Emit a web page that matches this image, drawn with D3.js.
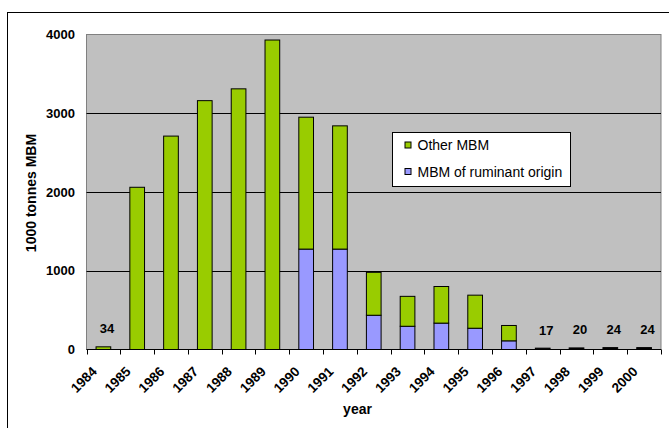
<!DOCTYPE html>
<html>
<head>
<meta charset="utf-8">
<script src="https://cdn.jsdelivr.net/npm/d3@7"></script>
<style>
  html, body { margin: 0; padding: 0; background: #fff; }
  svg { display: block; font-family: "Liberation Sans", Arial, sans-serif; }
</style>
</head>
<body>
<svg id="chart" width="669" height="428"></svg>
<script>
// Meat-and-bone meal production, thousand tonnes per year
const years = ["1984","1985","1986","1987","1988","1989","1990","1991","1992",
               "1993","1994","1995","1996","1997","1998","1999","2000"];
const ruminant = [0, 0, 0, 0, 0, 0, 1275, 1275, 435, 295, 335, 270, 110, 0, 0, 0, 0];
const other    = [34, 2060, 2710, 3160, 3310, 3930, 1675, 1565, 545, 380, 465, 420, 195, 0, 0, 0, 0];
// later years reported only as an undivided total
const totalOnly = [0, 0, 0, 0, 0, 0, 0, 0, 0, 0, 0, 0, 0, 17, 20, 24, 24];
// small totals written above their bars
const valueLabels = [
  { year: "1984", value: 34 },
  { year: "1997", value: 17 },
  { year: "1998", value: 20 },
  { year: "1999", value: 24 },
  { year: "2000", value: 24 }
];
const yTicks = [0, 1000, 2000, 3000, 4000];
const seriesNames = ["Other MBM", "MBM of ruminant origin"];
const colors = { "Other MBM": "#99CC00", "MBM of ruminant origin": "#9999FF", "Total": "#000000" };

const svg = d3.select("#chart");
const plot = { left: 86.5, top: 34.5, right: 661, bottom: 349.5 };

// outer chart frame
svg.append("rect")
  .attr("x", 7.5).attr("y", 12.5)
  .attr("width", 700).attr("height", 440)
  .attr("fill", "#fff").attr("stroke", "#000").attr("stroke-width", 1);

const x = d3.scaleBand().domain(years).range([plot.left, plot.right]);
const y = d3.scaleLinear().domain([0, 4000]).range([plot.bottom, plot.top]);
const barW = x.bandwidth() / 2.3;

// plot area background
svg.append("rect")
  .attr("x", plot.left).attr("y", plot.top)
  .attr("width", plot.right - plot.left).attr("height", plot.bottom - plot.top)
  .attr("fill", "#C0C0C0").attr("stroke", "#808080").attr("stroke-width", 1);

// horizontal gridlines
svg.append("g").selectAll("line")
  .data(yTicks.filter(t => t > 0 && t < 4000))
  .join("line")
  .attr("x1", plot.left).attr("x2", plot.right)
  .attr("y1", d => Math.round(y(d)) + 0.5).attr("y2", d => Math.round(y(d)) + 0.5)
  .attr("stroke", "#000").attr("stroke-width", 1);

// stacked bars
const rows = years.map((yr, i) => ({
  year: yr,
  "MBM of ruminant origin": ruminant[i],
  "Other MBM": other[i],
  "Total": totalOnly[i]
}));
const stack = d3.stack().keys(["MBM of ruminant origin", "Other MBM", "Total"]);
const layers = stack(rows);

svg.append("g").selectAll("g")
  .data(layers)
  .join("g")
  .attr("fill", d => colors[d.key])
  .selectAll("rect")
  .data(d => d.filter(p => p[1] - p[0] > 0))
  .join("rect")
  .attr("x", d => x(d.data.year) + (x.bandwidth() - barW) / 2)
  .attr("width", barW)
  .attr("y", d => y(d[1]))
  .attr("height", d => y(d[0]) - y(d[1]))
  .attr("stroke", "#000").attr("stroke-width", 1);

// x axis line and ticks at category boundaries
const xAxis = svg.append("g");
xAxis.append("line")
  .attr("x1", plot.left).attr("x2", plot.right)
  .attr("y1", plot.bottom).attr("y2", plot.bottom)
  .attr("stroke", "#000");
xAxis.selectAll("line.tick")
  .data(years.map(yr => x(yr)).concat([plot.right]))
  .join("line").attr("class", "tick")
  .attr("x1", d => Math.round(d) + 0.5).attr("x2", d => Math.round(d) + 0.5)
  .attr("y1", plot.bottom).attr("y2", plot.bottom + 5)
  .attr("stroke", "#000");

// rotated year labels
xAxis.selectAll("text")
  .data(years)
  .join("text")
  .attr("transform", d => `translate(${x(d) + x.bandwidth() / 2 - 9},${plot.bottom + 19.5}) rotate(-45)`)
  .attr("text-anchor", "end")
  .attr("font-size", 13.5).attr("font-weight", "bold")
  .attr("dy", "0.35em")
  .text(d => d);

// y tick labels
svg.append("g").selectAll("text")
  .data(yTicks)
  .join("text")
  .attr("x", 75).attr("y", d => y(d))
  .attr("dy", "0.35em")
  .attr("text-anchor", "end")
  .attr("font-size", 13).attr("font-weight", "bold")
  .text(d => d);

// value labels above the small bars
svg.append("g").selectAll("text")
  .data(valueLabels)
  .join("text")
  .attr("x", d => x(d.year) + x.bandwidth() / 2 + 3.5)
  .attr("y", d => y(d.value) - 13.5)
  .attr("text-anchor", "middle")
  .attr("font-size", 13).attr("font-weight", "bold")
  .text(d => d.value);

// axis titles
svg.append("text")
  .attr("transform", "translate(36,193) rotate(-90)")
  .attr("text-anchor", "middle")
  .attr("font-size", 14).attr("font-weight", "bold")
  .text("1000 tonnes MBM");

svg.append("text")
  .attr("x", 357.5).attr("y", 414)
  .attr("text-anchor", "middle")
  .attr("font-size", 14).attr("font-weight", "bold")
  .text("year");

// legend
const legend = svg.append("g").attr("transform", "translate(392.5,132.5)");
legend.append("rect")
  .attr("width", 178).attr("height", 54)
  .attr("fill", "#fff").attr("stroke", "#000");
seriesNames.forEach((name, i) => {
  const g = legend.append("g").attr("transform", `translate(12.5,${9.5 + i * 26.5})`);
  g.append("rect").attr("width", 6).attr("height", 6)
    .attr("fill", colors[name]).attr("stroke", "#000");
  g.append("text").attr("x", 12.5).attr("y", 3.5).attr("dy", "0.35em")
    .attr("font-size", 14).text(name);
});
</script>
</body>
</html>
